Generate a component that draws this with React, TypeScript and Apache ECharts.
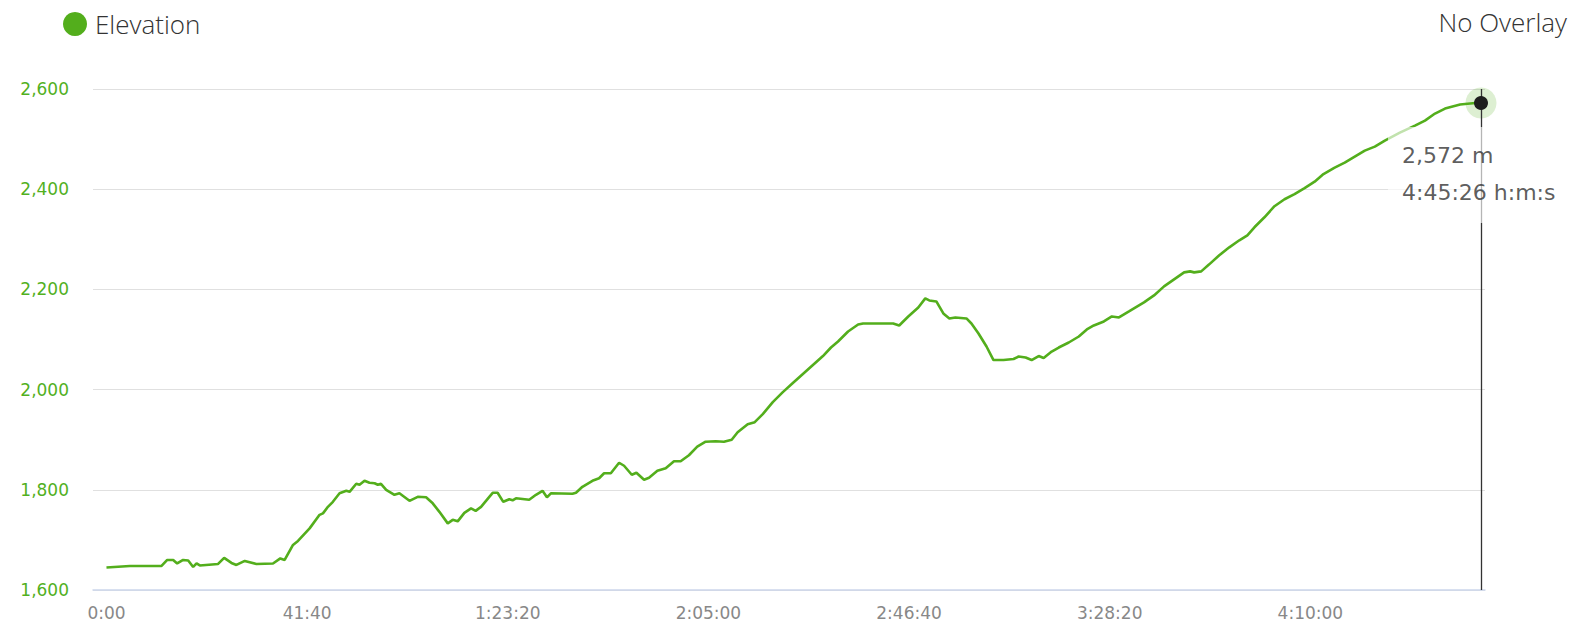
import React, { useEffect, useRef } from "react";
import * as echarts from "echarts";

// elapsed time in seconds
const times: number[] = [
  0, 292, 500, 686, 757, 831, 881, 955, 1018, 1080, 1122, 1163, 1391, 1466, 1557, 1619, 1723, 1868,
  2075, 2166, 2220, 2324, 2386, 2531, 2655, 2697, 2759, 2821, 2904, 2988, 3029, 3112, 3153, 3215,
  3277, 3340, 3381, 3420, 3485, 3588, 3650, 3775, 3878, 3982, 4065, 4148, 4252, 4314, 4376, 4459,
  4542, 4600, 4667, 4770, 4812, 4873, 4944, 5019, 5060, 5102, 5267, 5351, 5433, 5488, 5537, 5806,
  5850, 5930, 6055, 6138, 6200, 6284, 6387, 6449, 6545, 6603, 6698, 6760, 6864, 6968, 7071, 7154,
  7257, 7361, 7465, 7590, 7693, 7790, 7864, 7989, 8077, 8177, 8302, 8427, 8552, 8677, 8802, 8927,
  9027, 9115, 9240, 9365, 9427, 9677, 9802, 9877, 9990, 10115, 10202, 10252, 10340, 10427, 10502,
  10577, 10715, 10777, 10865, 10965, 11052, 11177, 11302, 11365, 11452, 11527, 11615, 11677, 11777,
  11865, 11990, 12115, 12215, 12302, 12427, 12527, 12615, 12740, 12927, 13052, 13177, 13302, 13427,
  13502, 13552, 13640, 13740, 13865, 13990, 14115, 14215, 14303, 14428, 14553, 14678, 14803, 14928,
  15053, 15153, 15303, 15428, 15553, 15678, 15803, 15928, 16115, 16303, 16428, 16553, 16678, 16866,
  16991, 17060, 17126,
];

// elevation in metres
const elevations: number[] = [
  1645, 1648, 1648, 1648, 1660, 1660, 1653, 1660, 1659, 1646, 1653, 1649, 1652, 1664, 1654, 1650, 1658, 1652,
  1653, 1663, 1660, 1690, 1698, 1723, 1750, 1753, 1766, 1776, 1793, 1798, 1796, 1812, 1810, 1818,
  1814, 1813, 1810, 1812, 1800, 1790, 1793, 1778, 1786, 1785, 1773, 1756, 1733, 1740, 1737, 1754,
  1763, 1758, 1766, 1786, 1794, 1794, 1776, 1781, 1779, 1783, 1780, 1790, 1798, 1785, 1793, 1792,
  1794, 1806, 1818, 1823, 1833, 1833, 1854, 1848, 1830, 1834, 1820, 1824, 1838, 1843, 1857, 1857,
  1869, 1886, 1896, 1897, 1896, 1900, 1915, 1931, 1935, 1951, 1975, 1995, 2013, 2031, 2049, 2067,
  2084, 2096, 2116, 2130, 2132, 2132, 2132, 2128, 2146, 2164, 2182, 2178, 2176, 2152, 2142,
  2144, 2142, 2132, 2112, 2086, 2059, 2059, 2061, 2066, 2064, 2059, 2067, 2063, 2076,
  2084, 2094, 2106, 2120, 2128, 2136, 2146, 2144, 2156, 2174, 2188, 2206, 2220, 2234,
  2236, 2234, 2236, 2250, 2268, 2284, 2298, 2308, 2324, 2344, 2366, 2380, 2390, 2402,
  2415, 2429, 2443, 2453, 2465, 2477, 2485, 2497, 2513, 2527, 2537, 2551, 2561, 2569,
  2571, 2572, 2572,
];

const xTickValues: number[] = [0, 2500, 5000, 7500, 10000, 12500, 15000];
const yTicks = { min: 1600, max: 2600, interval: 200 };

const GREEN = "#53ae1c";

function fmtTime(s: number): string {
  const h = Math.floor(s / 3600);
  const m = Math.floor((s % 3600) / 60);
  const sec = Math.round(s % 60);
  const pad = (n: number) => (n < 10 ? "0" + n : "" + n);
  return h > 0 ? `${h}:${pad(m)}:${pad(sec)}` : `${m}:${pad(sec)}`;
}

export default function App() {
  const ref = useRef<HTMLDivElement>(null);

  useEffect(() => {
    if (!ref.current) return;
    const chart = echarts.init(ref.current, undefined, { renderer: "svg" });
    const data = times.map((t, i) => [t, elevations[i]]);
    const lastT = times[times.length - 1];
    const lastE = elevations[elevations.length - 1];

    chart.setOption({
      animation: false,
      grid: { left: 93, right: 91, top: 89, bottom: 51 },
      legend: {
        data: ["Elevation"],
        left: 63,
        top: 11,
        padding: 0,
        icon: "circle",
        itemWidth: 24,
        itemHeight: 24,
        textStyle: {
          fontFamily: "Open Sans",
          fontWeight: 300,
          fontSize: 26,
          color: "#333",
          padding: [0, 0, 0, 3],
        },
        selectedMode: false,
      },
      graphic: [
        {
          type: "text",
          right: 9,
          top: 9,
          style: {
            text: "No Overlay",
            fontFamily: "Open Sans",
            fontWeight: 300,
            fontSize: 26,
            fill: "#333",
          },
        },
      ],
      xAxis: {
        type: "value",
        min: -168,
        max: 17176,
        axisLine: { show: true, lineStyle: { color: "#ccd6eb", width: 1.5 } },
        axisTick: { show: false },
        splitLine: { show: false },
        axisLabel: {
          customValues: xTickValues,
          formatter: (v: number) => fmtTime(v),
          color: "#888",
          fontSize: 17,
          fontFamily: "DejaVu Sans",
          margin: 14,
        },
      },
      yAxis: {
        type: "value",
        min: yTicks.min,
        max: yTicks.max,
        interval: yTicks.interval,
        axisLine: { show: false },
        axisTick: { show: false },
        splitLine: { lineStyle: { color: "#e0e0e0", width: 1 } },
        axisLabel: {
          formatter: (v: number) => v.toLocaleString("en-US"),
          color: "#52b01e",
          fontSize: 17,
          fontFamily: "DejaVu Sans",
          margin: 24,
        },
      },
      series: [
        {
          name: "Elevation",
          type: "line",
          data,
          showSymbol: false,
          itemStyle: { color: GREEN },
          lineStyle: { color: GREEN, width: 2.6 },
          z: 2,
        },
        {
          name: "halo",
          type: "scatter",
          data: [[lastT, lastE]],
          symbolSize: 31,
          itemStyle: { color: "rgba(83,176,28,0.25)" },
          z: 3,
          silent: true,
        },
        {
          name: "dot",
          type: "scatter",
          data: [[lastT, lastE]],
          symbolSize: 14,
          itemStyle: { color: "#1e1e1e", opacity: 1 },
          z: 5,
          silent: true,
        },
        {
          name: "crosshair",
          type: "scatter",
          data: [],
          z: 4,
          silent: true,
          markLine: {
            silent: true,
            symbol: "none",
            label: { show: false },
            lineStyle: { color: "#333", width: 1.3, type: "solid", opacity: 1 },
            data: [{ xAxis: lastT }],
          },
        },
        {
          name: "tip",
          type: "scatter",
          data: [[lastT, lastE]],
          symbolSize: 1,
          itemStyle: { color: "rgba(0,0,0,0)" },
          z: 10,
          silent: true,
          labelLayout: { hideOverlap: false },
          label: {
            show: true,
            position: [-92.5, 24.5],
            align: "left",
            verticalAlign: "top",
            formatter: () => `${lastE.toLocaleString("en-US")} m\n${fmtTime(lastT)} h:m:s`,
            fontFamily: "DejaVu Sans",
            fontSize: 22,
            lineHeight: 37,
            color: "#333",
            backgroundColor: "rgba(255,255,255,0.8)",
            padding: [10, 14, 12, 14],
          },
        },
      ],
    });

    return () => chart.dispose();
  }, []);

  return (
    <div
      ref={ref}
      style={{ position: "absolute", left: 0, top: 0, width: 1576, height: 641 }}
    />
  );
}
